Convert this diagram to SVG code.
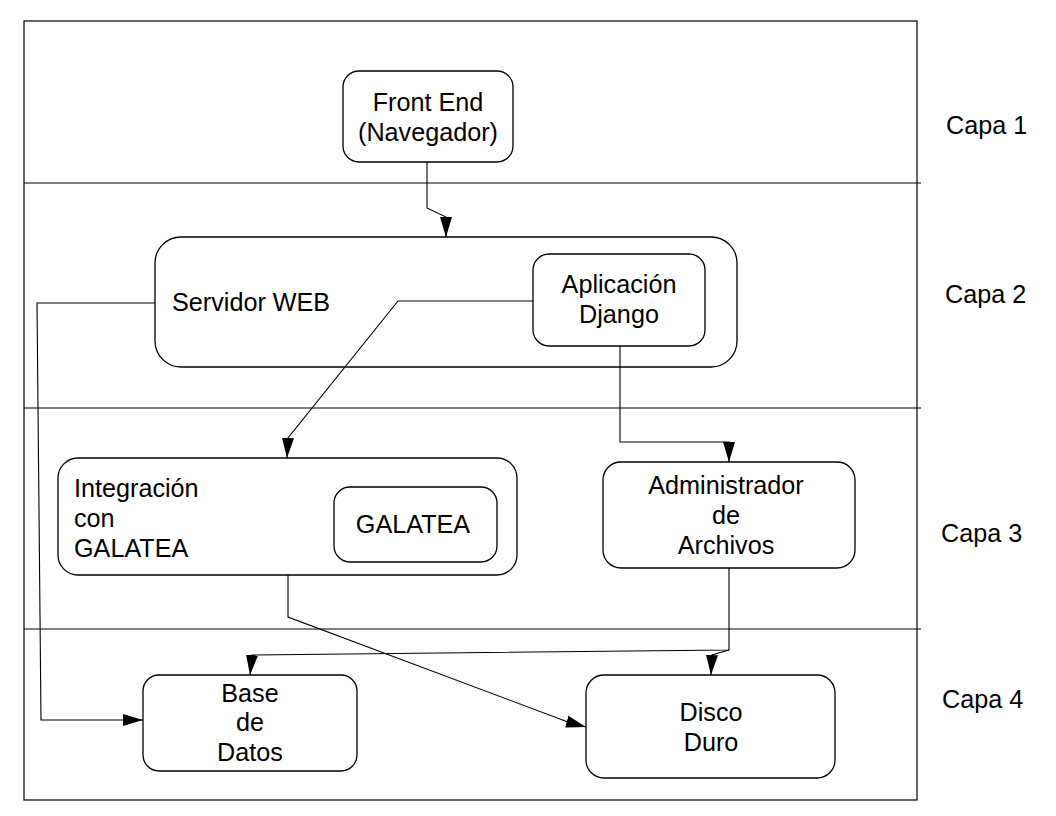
<svg xmlns="http://www.w3.org/2000/svg" width="1056" height="816" viewBox="0 0 1056 816">
<style>
.box{fill:#fff;stroke:#000;stroke-width:1.3}
.t{font-family:"Liberation Sans",Arial,sans-serif;font-size:25.2px;fill:#000}
.c{text-anchor:middle}
.ln{fill:none;stroke:#000;stroke-width:1.2}
.con{fill:none;stroke:#000;stroke-width:1.1;marker-end:url(#arr)}
</style>
<defs>
<marker id="arr" markerUnits="userSpaceOnUse" markerWidth="22" markerHeight="14" refX="20" refY="7" orient="auto" viewBox="0 0 22 14">
<path d="M0,1 L20,7 L0,13 Z" fill="#000"/>
</marker>
</defs>
<rect width="1056" height="816" fill="#fff"/>
<g id="frame">
<rect x="24" y="21" width="893" height="779" class="ln"/>
<line x1="24" y1="183" x2="921" y2="183" class="ln"/>
<line x1="24" y1="408" x2="921" y2="408" class="ln"/>
<line x1="24" y1="629" x2="921" y2="629" class="ln"/>
</g>
<g id="layers">
<text class="t" x="946" y="134">Capa 1</text>
<text class="t" x="945" y="303">Capa 2</text>
<text class="t" x="941" y="542">Capa 3</text>
<text class="t" x="942" y="708">Capa 4</text>
</g>
<g id="frontend">
<rect x="343" y="71" width="170" height="91" rx="16" class="box"/>
<text class="t c" x="428" y="111">Front End</text>
<text class="t c" x="428" y="141">(Navegador)</text>
</g>
<g id="servidor">
<rect x="155" y="237" width="582" height="130" rx="26" class="box"/>
<text class="t" x="172" y="311">Servidor WEB</text>
</g>
<g id="django">
<rect x="533" y="254" width="172" height="92" rx="16" class="box"/>
<text class="t c" x="619" y="293">Aplicación</text>
<text class="t c" x="619" y="323">Django</text>
</g>
<g id="integracion">
<rect x="58" y="458" width="459" height="117" rx="20" class="box"/>
<text class="t" x="74" y="497">Integración</text>
<text class="t" x="74" y="527">con</text>
<text class="t" x="74" y="557">GALATEA</text>
</g>
<g id="galatea">
<rect x="334" y="487" width="163" height="75" rx="16" class="box"/>
<text class="t c" x="413" y="533">GALATEA</text>
</g>
<g id="administrador">
<rect x="603" y="462" width="252" height="106" rx="18" class="box"/>
<text class="t c" x="726" y="494">Administrador</text>
<text class="t c" x="726" y="524">de</text>
<text class="t c" x="726" y="554">Archivos</text>
</g>
<g id="basedatos">
<rect x="143" y="675" width="214" height="96" rx="16" class="box"/>
<text class="t c" x="250" y="702">Base</text>
<text class="t c" x="250" y="731">de</text>
<text class="t c" x="250" y="761">Datos</text>
</g>
<g id="disco">
<rect x="586" y="675" width="249" height="103" rx="18" class="box"/>
<text class="t c" x="711" y="721">Disco</text>
<text class="t c" x="711" y="751">Duro</text>
</g>
<g id="connectors">
<polyline class="con" points="427,162 427,208 446,217 446,237"/>
<polyline class="con" points="533,301 398,301 288,438 287,458"/>
<polyline class="con" points="155,303 37,303 41,720 143,720"/>
<polyline class="con" points="620,346 620,442 729,442 729,462"/>
<polyline class="con" points="288,575 288,617 568,722 586,727"/>
<polyline class="con" points="729,568 729,650 252,655 250,675"/>
<polyline class="con" points="729,650 712,655 711,675"/>
</g>
</svg>
